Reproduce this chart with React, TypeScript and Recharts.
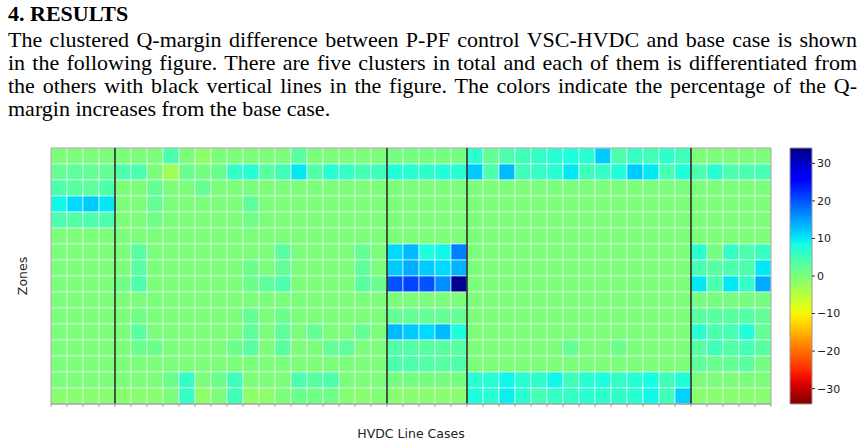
import { BarChart, Bar, XAxis, YAxis, Cell, ReferenceLine, ReferenceArea } from 'recharts'

// Q-margin change (%) per zone (rows, top to bottom) and HVDC line case (columns)
const zone01 = [0, 0, 0, 0, 0, 0, 0, 4, 0, -1.5, 0, 0, 0, 0, 0, 3, 0, 0, 0, 0, 0, 0.5, 0.5, 0.5, 0.5, 0.5, 7, 2, 4, 5, 6, 7, 8, 7, 12, 4, 6, 5, 6.5, 5, 0, 0, 0, 0, 0]
const zone02 = [2, 2.5, 2, 2, 4, 4, 0, -3, 1.5, 0.5, 1.5, 6, 7, 3, 5, 10, 3.5, 7, 6, 4.5, 5, 7.5, 7, 6.5, 7.5, 7, 12, 4, 13, 5, 6, 7, 10, 5, 6, 7.5, 12, 10, 4.5, 7.5, 4, 7, 4, 4, 4.5]
const zone03 = [4, 3, 2.5, 4, 0, 0, 2, 0, 0, 2, 0, 0, 0, 0, 0, 0, 0, 0, 0, 0, 0, 0, 0, 0, 0, 0, 0, 0, 0, 0, 0, 0, 0, 0, 0, 0, 0, 0, 0, 0, 0, 0, 0, 0, 0]
const zone04 = [9, 11, 12, 10, 0, 0, 2, 0, 0, 0, 0, 0, 2.5, 0, 0, 0, 0, 0, 0, 0, 0, 0, 0, 0, 0, 0, 0, 0, 0, 0, 0, 0, 0, 0, 0, 0, 0, 0, 0, 0, 0, 0, 0, 0, 0]
const zone05 = [4, 3.5, 4, 4, 0, 0, 1, 0, 0, 0, 0, 0, 1, 0, 0, 0, 0, 0, 0, 0, 0, 0, 0, 0, 0, 0, 0, 0, 0, 0, 0, 0, 0, 0, 0, 0, 0, 0, 0, 0, 0, 0, 0, 0, 0]
const zone06 = [0, 0, 0, 0, 0, 0, 0, 0, 0, 0, 0, 0, 0, 0, 0, 0, 0, 0, 0, 0, 0, 0, 0, 0, 0, 0, 0, 0, 0, 0, 0, 0, 0, 0, 0, 0, 0, 0, 0, 0, 0, 0, 0, 0, 0]
const zone07 = [0, 0, 0, 0, 0, 3, 0, 0, 0, 0, 0, 0, 0, 0, 3, 0, 0, 0, 0, 2, 0, 11, 13, 8, 9, 17, 0, 0, 0, 0, 0, 0, 0, 0, 0, 0, 0, 0, 0, 0, 7, 0.5, 6, 4, 5.5]
const zone08 = [0, 0, 0, 0, 0, 3, 0, 0, 0, 0, 0, 0, 1.5, 0, 2, 0, 0, 0, 0, 2.5, 0, 12, 14, 12, 11, 13.5, 0, 0, 0, 0, 0, 0, 0, 0, 0, 0, 0, 0, 0, 0, 4.5, 3, 4, 4, 10]
const zone09 = [0, 0, 0, 0, 1, 4, 0, 0, 0, 0, 0, 0, 1.5, 2.5, 4, 0, 0, 0, 0, 3, 1.5, 20, 21, 20, 16, 33, 0, 0, 0, 0, 0, 0, 0, 0, 0, 0, 0, 0, 0, 0, 10, 4, 10, 6, 14]
const zone10 = [0, 0, 0, 0, 0, 0, 0, 0, 0, 0, 0, 0, 0, 0, 0, 0, 0, 0, 0, 0, 0, 0, 0, 0, 0, 0, 0, 0, 0, 0, 0, 0, 0, 0, 0, 0, 0, 0, 0, 0, 0.5, 0.5, 0.5, 0.5, 0.5]
const zone11 = [0, 0, 0, 0, 0, 1, 0, 0, 0, 0, 0, 0, 2, 0, 1.5, 0, 0, 0, 0, 0, 0, 2, 2, 2, 2, 2, 0, 0, 0, 0, 0, 0, 0, 0, 0, 0, 0, 0, 0, 0, 3, 3, 3, 3.5, 2]
const zone12 = [0, 0, 0, 0, 0, 3, 0, 0, 0, 0, 0, 0, 2.5, 0, 2.5, 0, 2, 0, 0, 2, 0, 13, 12, 11, 13, 8, 0, 0, 0, 0, 0, 0, 0, 0, 0, 0, 0, 0, 0, 0, 7, 4, 4.5, 7.5, 2]
const zone13 = [0, 0, 0, 0, 0, 1.5, 1.5, 0, 0, 0, 0, 1.5, 3, 0, 3, 0, 0, 2, 2.5, 0, 0, 3.5, 3.5, 3, 3, 3, 0, 0, 0, 0, 0, 0, 2, 0, 0, 1.5, 0, 0, 0, 0, 3, 5, 3.5, 4.5, 3]
const zone14 = [0, 0, 0, 0, 0, 0, 0, 0, 0, 0, 0, 0, 0, 0, 0, 0, 0, 0, 0, 0, 0, 4, 4, 3.5, 3, 4, 0, 0, 0, 0, 0, 0, 0, 0, 0, 0, 0, 0, 0, 0, 2.5, 1.5, 2, 3, 0.5]
const zone15 = [0, 0, 0, 0, 0, 0, 0, 1.5, 6, 0, 1.5, 5, 0, 0, 0, 4, 3, 4, 0, 0, 0, 0.5, 0.5, 0.5, 0.5, 0.5, 7, 7, 9, 7, 6.5, 9, 5, 7, 8, 6, 7, 8.5, 5, 7.5, 0, 0, 0, 0, 0]
const zone16 = [-1, -1, -1, -1, -1, -1, -1, 0, 6, -1.5, 0, 5, -1.5, -1.5, 0, 1.5, 1, 1, -0.5, -1, -0.5, -1, -1, -1, -1, -1, 8, 7, 9.5, 7, 4.5, 6, 6, 7, 6.5, 6.5, 7, 9, 5, 11.5, -1, -1, -1, -1, -1]

const zones = [zone01, zone02, zone03, zone04, zone05, zone06, zone07, zone08, zone09, zone10, zone11, zone12, zone13, zone14, zone15, zone16]

// last case of each cluster except the final one
const clusterEnds = [4, 21, 26, 40]
const colorTicks = [-30, -20, -10, 0, 10, 20, 30]
const colorMin = -34.1
const colorMax = 34.1

const paragraph = [
  'The clustered Q-margin difference between P-PF control VSC-HVDC and base case is shown',
  'in the following figure. There are five clusters in total and each of them is differentiated from',
  'the others with black vertical lines in the figure. The colors indicate the percentage of the Q-',
  'margin increases from the base case.',
]

// matplotlib "jet" segment data: [position, level]
const jetRed = [[0, 0], [0.35, 0], [0.66, 1], [0.89, 1], [1, 0.5]]
const jetGreen = [[0, 0], [0.125, 0], [0.375, 1], [0.64, 1], [0.91, 0], [1, 0]]
const jetBlue = [[0, 0.5], [0.11, 1], [0.34, 1], [0.65, 0], [1, 0]]

function segment(seg: number[][], t: number) {
  for (let i = 1; i < seg.length; i++) {
    if (t <= seg[i][0]) {
      const [x0, y0] = seg[i - 1]
      const [x1, y1] = seg[i]
      return y0 + ((t - x0) / (x1 - x0)) * (y1 - y0)
    }
  }
  return seg[seg.length - 1][1]
}

// reversed jet: high values blue, low values red
function jetR(value: number) {
  const n = Math.min(1, Math.max(0, (value - colorMin) / (colorMax - colorMin)))
  const t = 1 - n
  const r = Math.round(segment(jetRed, t) * 255)
  const g = Math.round(segment(jetGreen, t) * 255)
  const b = Math.round(segment(jetBlue, t) * 255)
  return `rgb(${r},${g},${b})`
}

// every cell is one unit tall; colour carries the value
const cases = zone01.map((_, c) => {
  const row: Record<string, number> = { case: c + 1 }
  zones.forEach((_, r) => {
    row[`z${r}`] = 1
  })
  return row
})

const gradientStops = Array.from({ length: 41 }, (_, i) => {
  const off = i / 40
  return { off, color: jetR(colorMax - off * (colorMax - colorMin)) }
})

const axisFont = "'DejaVu Sans', sans-serif"
const serif = "'Liberation Serif', 'Times New Roman', serif"
const frameColor = '#a0a0a0'

// tick marks sit on the cell edges rather than the cell centres
function EdgeTick(props: any) {
  const { x, y, payload } = props
  const half = payload?.offset || 8
  const xs = [x - half]
  if (payload?.value === cases.length) xs.push(x + half)
  return (
    <g>
      {xs.map((px, i) => (
        <line key={i} x1={px} x2={px} y1={y} y2={y + 3} stroke={frameColor} />
      ))}
    </g>
  )
}

function Heatmap() {
  return (
    <BarChart
      width={865}
      height={305}
      data={cases}
      barCategoryGap={0}
      barGap={0}
      margin={{ top: 8, right: 94, bottom: 36, left: 51 }}
    >
      <XAxis
        dataKey="case"
        interval={0}
        tick={<EdgeTick />}
        tickLine={false}
        tickSize={0}
        tickMargin={0}
        height={5}
        axisLine={{ stroke: frameColor }}
      />
      <YAxis type="number" domain={[0, zones.length]} reversed hide allowDataOverflow />
      {zones.map((zone, r) => (
        <Bar
          key={r}
          dataKey={`z${r}`}
          stackId="zones"
          isAnimationActive={false}
          stroke="rgba(255,255,255,0.6)"
          strokeWidth={1}
        >
          {zone.map((v, c) => (
            <Cell key={c} fill={jetR(v)} />
          ))}
        </Bar>
      ))}
      <ReferenceLine x={1} position="start" stroke={frameColor} />
      <ReferenceLine x={cases.length} position="end" stroke={frameColor} />
      <ReferenceLine y={0} stroke={frameColor} />
      <ReferenceLine y={zones.length} stroke={frameColor} />
      {clusterEnds.map((c) => (
        <ReferenceLine key={c} x={c} position="end" stroke="#1c1c1c" strokeWidth={1.5} />
      ))}
    </BarChart>
  )
}

function ColorBar() {
  return (
    <BarChart
      width={85}
      height={305}
      data={[{ k: 'scale' }]}
      margin={{ top: 8, right: 0, bottom: 41, left: 10 }}
    >
      <defs>
        <linearGradient id="jetBar" x1="0" y1="0" x2="0" y2="1">
          {gradientStops.map((s) => (
            <stop key={s.off} offset={s.off} stopColor={s.color} />
          ))}
        </linearGradient>
      </defs>
      <XAxis dataKey="k" hide />
      <YAxis
        orientation="right"
        type="number"
        domain={[colorMin, colorMax]}
        ticks={colorTicks}
        tickFormatter={(v: number) => (v < 0 ? `\u2212${-v}` : `${v}`)}
        width={53}
        axisLine={false}
        tickSize={3}
        tickMargin={2}
        tick={{ fontSize: 11, fill: '#1a1a1a', fontFamily: axisFont }}
        tickLine={{ stroke: '#333' }}
        allowDataOverflow
      />
      <ReferenceArea
        y1={colorMin}
        y2={colorMax}
        fill="url(#jetBar)"
        fillOpacity={1}
        stroke="#999"
        ifOverflow="visible"
      />
    </BarChart>
  )
}

export default function App() {
  return (
    <div style={{ position: 'absolute', left: 0, top: 0, width: 865, height: 445, background: '#fff', overflow: 'hidden' }}>
      <div
        style={{
          position: 'absolute',
          left: 8,
          top: 2,
          fontFamily: serif,
          fontWeight: 'bold',
          fontSize: 22,
          lineHeight: '23px',
          color: '#000',
        }}
      >
        4. RESULTS
      </div>
      <div style={{ position: 'absolute', left: 8, top: 28, width: 849, fontFamily: serif, fontSize: 22, lineHeight: '23px', color: '#000' }}>
        {paragraph.map((line, i) => (
          <div
            key={i}
            style={{
              textAlign: 'justify',
              textAlignLast: i < paragraph.length - 1 ? 'justify' : 'left',
            }}
          >
            {line}
          </div>
        ))}
      </div>
      <div style={{ position: 'absolute', left: 0, top: 140 }}>
        <Heatmap />
      </div>
      <div style={{ position: 'absolute', left: 780, top: 140 }}>
        <ColorBar />
      </div>
      <div
        style={{
          position: 'absolute',
          left: 22,
          top: 276,
          transform: 'translate(-50%, -50%) rotate(-90deg)',
          fontFamily: axisFont,
          fontSize: 12.5,
          color: '#222',
          whiteSpace: 'nowrap',
        }}
      >
        Zones
      </div>
      <div
        style={{
          position: 'absolute',
          left: 411,
          top: 433,
          transform: 'translate(-50%, -50%)',
          fontFamily: axisFont,
          fontSize: 12.5,
          color: '#222',
          whiteSpace: 'nowrap',
        }}
      >
        HVDC Line Cases
      </div>
    </div>
  )
}
